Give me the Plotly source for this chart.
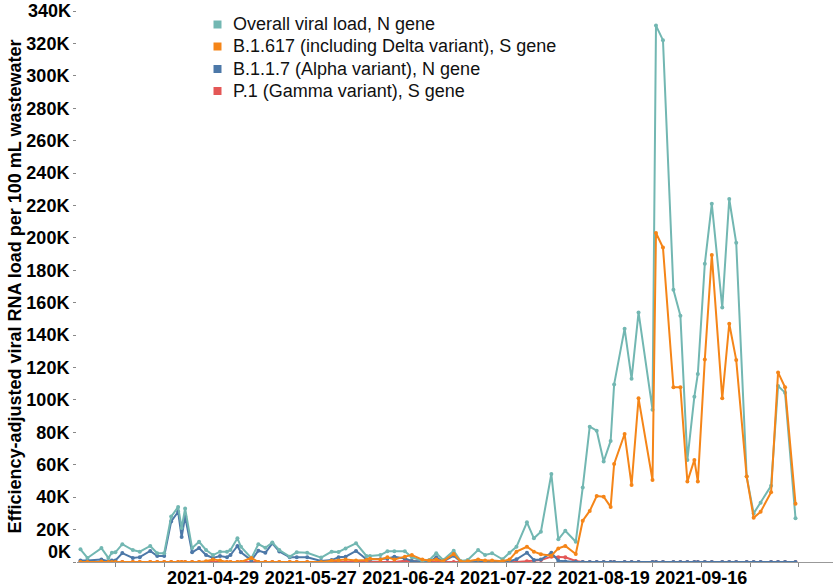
import plotly.graph_objects as go

dates = [
    "2021-03-22", "2021-03-24", "2021-03-28", "2021-03-30", "2021-03-31", "2021-04-01",
    "2021-04-03", "2021-04-06", "2021-04-08", "2021-04-11", "2021-04-13", "2021-04-15",
    "2021-04-17", "2021-04-19", "2021-04-20", "2021-04-21", "2021-04-23", "2021-04-25",
    "2021-04-27", "2021-04-29", "2021-05-01", "2021-05-03", "2021-05-04", "2021-05-06",
    "2021-05-07", "2021-05-10", "2021-05-12", "2021-05-14", "2021-05-16", "2021-05-18",
    "2021-05-21", "2021-05-23", "2021-05-26", "2021-05-30", "2021-06-02", "2021-06-04",
    "2021-06-06", "2021-06-09", "2021-06-12", "2021-06-13", "2021-06-16", "2021-06-18",
    "2021-06-20", "2021-06-23", "2021-06-25", "2021-06-28", "2021-06-30", "2021-07-02",
    "2021-07-04", "2021-07-07", "2021-07-09", "2021-07-11", "2021-07-14", "2021-07-16",
    "2021-07-18", "2021-07-21", "2021-07-23", "2021-07-25", "2021-07-28", "2021-07-30",
    "2021-08-01", "2021-08-04", "2021-08-06", "2021-08-08", "2021-08-11", "2021-08-13",
    "2021-08-15", "2021-08-17", "2021-08-19", "2021-08-21", "2021-08-22", "2021-08-25",
    "2021-08-27", "2021-08-29", "2021-09-02", "2021-09-03", "2021-09-05", "2021-09-08",
    "2021-09-10", "2021-09-12", "2021-09-14", "2021-09-15", "2021-09-17", "2021-09-19",
    "2021-09-22", "2021-09-24", "2021-09-26", "2021-09-29", "2021-10-01", "2021-10-03",
    "2021-10-06", "2021-10-08", "2021-10-10", "2021-10-13",
]

overall_n = [
    7800, 2500, 8600, 2500, 5700, 6000,
    11000, 7400, 6400, 9900, 5400, 5400,
    28000, 34000, 21000, 33000, 8600, 12500,
    7400, 4300, 6400, 6400, 7400, 14600,
    9400, 2300, 11000, 8800, 12000, 7400,
    3300, 6000, 5700, 2700, 6400, 6200,
    8400, 11500, 3700, 3700, 4300, 6600,
    6600, 6600, 2900, 800, 1200, 5400,
    1200, 7000, 600, 1200, 7400, 4300,
    5400, 1700, 5700, 9400, 24500, 14600,
    18700, 54300, 14000, 19300, 12500, 46000,
    83500, 81000, 62000, 74700, 109600, 144000,
    113000, 154000, 94000, 331000, 322000, 168000,
    152000, 63000, 102000, 116000, 184000, 221000,
    157000, 224000, 197000, 52700, 30000, 36600,
    47000, 108600, 104500, 27000,
]

delta_s = [
    0, 0, 300, 0, 0, 0,
    0, 0, 0, 0, 0, 0,
    0, 0, 0, 0, 0, 0,
    500, 1500, 1000, 0, 0, 0,
    0, 2500, 0, 0, 0, 0,
    0, 0, 0, 0, 800, 1000,
    1500, 1000, 1200, 2000, 1500, 2900,
    1500, 3300, 4300, 1500, 1000, 1500,
    500, 5000, 300, 500, 1500, 1000,
    1000, 500, 1500, 6400, 9400, 6400,
    4800, 3900, 8400, 9900, 4900, 25500,
    31500, 40700, 40300, 34000, 60500, 79000,
    47500, 101000, 50600, 203000, 194000, 107800,
    107800, 49600, 63000, 49600, 125000, 189500,
    101000, 147000, 124700, 52700, 27300, 31000,
    43000, 117000, 107800, 36000,
]

alpha_n = [
    1000, 1000, 1500, 500, 1000, 1000,
    5500, 2500, 3000, 6800, 3700, 3700,
    25000, 31000, 15400, 28000, 6000, 8600,
    4300, 2500, 3700, 3000, 4300, 9900,
    6000, 1000, 7000, 5700, 11500, 6500,
    2900, 2900, 2900, 600, 1200, 2900,
    3300, 6800, 1700, 1500, 1700, 2200,
    3300, 2200, 600, 300, 300, 2900,
    300, 3900, 200, 0, 500, 0,
    0, 0, 500, 1700, 5700, 1200,
    1500, 5700, 800, 300, 0, 0,
    0, 0, 0, 0, 0, 0,
    0, 0, 0, 0, 0, 0,
    0, 0, 0, 0, 0, 0,
    0, 0, 0, 0, 0, 0,
    0, 0, 0, 0,
]

gamma_s = [
    0, 0, 0, 0, 0, 0,
    0, 0, 0, 0, 0, 0,
    0, 0, 0, 0, 0, 0,
    0, 0, 0, 0, 0, 0,
    0, 0, 0, 0, 0, 0,
    0, 0, 0, 0, 0, 0,
    0, 0, 0, 0, 0, 0,
    0, 800, 600, 0, 0, 0,
    0, 0, 0, 0, 0, 0,
    0, 0, 0, 0, 500, 800,
    1200, 3300, 2900, 2900, 600, 0,
    0, 0, 0, 0, 0, 0,
    0, 0, 0, 0, 0, 0,
    0, 0, 0, 0, 0, 0,
    0, 0, 0, 0, 0, 0,
    0, 0, 0, 0,
]

series_names = [
    "Overall viral load, N gene",
    "B.1.617 (including Delta variant), S gene",
    "B.1.1.7 (Alpha variant), N gene",
    "P.1 (Gamma variant), S gene",
]
series_colors = ["#72b7b2", "#f58518", "#4c78a8", "#e45756"]
series_values = [overall_n, delta_s, alpha_n, gamma_s]
draw_order = [3, 2, 0, 1]

y_tick_vals = list(range(0, 340001, 20000))
y_edge_vals = [0, 340000]
y_tick_text = ["" if v in y_edge_vals else f"{v // 1000}K" for v in y_tick_vals]
x_tick_vals = ["2021-04-29", "2021-05-27", "2021-06-24", "2021-07-22", "2021-08-19", "2021-09-16"]

FONT = "Liberation Sans, Arial, sans-serif"
W, H = 836, 587
ML, MR, MT, MB = 77, 3, 11, 25
PW, PH = W - ML - MR, H - MT - MB

fig = go.Figure()

for i in draw_order:
    fig.add_trace(go.Scatter(
        x=dates, y=series_values[i], mode="lines+markers", name=series_names[i],
        line=dict(color=series_colors[i], width=2),
        marker=dict(color=series_colors[i], size=4),
        showlegend=False,
    ))

fig.update_layout(
    width=W, height=H,
    margin=dict(l=ML, r=MR, t=MT, b=MB, autoexpand=False),
    plot_bgcolor="white", paper_bgcolor="white",
    font=dict(family=FONT, color="#000"),
    showlegend=False,
    xaxis=dict(
        type="date", automargin=False,
        range=["2021-03-21", "2021-10-23 18:00"],
        tickmode="array", tickvals=x_tick_vals, ticktext=x_tick_vals,
        tickfont=dict(size=18, family=FONT, color="#000", weight="bold"),
        ticks="outside", ticklen=4, tickcolor="#888",
        ticklabelstandoff=-5,
        showline=True, linecolor="#999", linewidth=1,
        showgrid=False, zeroline=False,
        minor=dict(ticks="outside", ticklen=4, tickcolor="#888",
                   dtick=14 * 86400000, tick0="2021-04-15", showgrid=False),
    ),
    yaxis=dict(
        range=[0, 340000], automargin=False,
        tickmode="array", tickvals=y_tick_vals, ticktext=y_tick_text,
        tickfont=dict(size=18, family=FONT, color="#000", weight="bold"),
        ticks="outside", ticklen=3, tickcolor="#888",
        showline=False, showgrid=False, zeroline=False,
        title=dict(
            text="Efficiency-adjusted viral RNA load per 100 mL wastewater",
            font=dict(size=18, color="#000", family=FONT, weight="bold"), standoff=0,
        ),
    ),
)

# End labels of the y axis, kept inside the figure as in the original
for v, anchor, shift in [(0, "bottom", -2), (340000, "middle", 0)]:
    fig.add_annotation(
        x=0, xref="paper", xanchor="right", xshift=-4,
        y=v, yref="y", yanchor=anchor, yshift=shift,
        text=f"{v // 1000}K", showarrow=False,
        font=dict(size=18, color="#000", family=FONT, weight="bold"),
    )

# Legend built from shapes and text, positioned in page pixels
legend_sym_x = 217.5
legend_text_x = 231
legend_row_y = [24.5, 46.5, 69, 91]
for name, color, ry in zip(series_names, series_colors, legend_row_y):
    xs = (legend_sym_x - ML) / PW
    ys = 1 - (ry - MT) / PH
    half_x = 4 / PW
    half_y = 4 / PH
    fig.add_shape(type="rect", xref="paper", yref="paper",
                  x0=xs - half_x, x1=xs + half_x, y0=ys - half_y, y1=ys + half_y,
                  fillcolor=color, line=dict(width=0), layer="above")
    fig.add_annotation(
        x=(legend_text_x - ML) / PW, xref="paper", xanchor="left",
        y=ys, yref="paper", yanchor="middle",
        text=name, showarrow=False,
        font=dict(size=18, color="#111", family=FONT),
    )

fig.write_html(
    "out.html",
    config={"displayModeBar": False},
    post_script="document.body.style.margin='0';document.body.style.overflow='hidden';",
)
